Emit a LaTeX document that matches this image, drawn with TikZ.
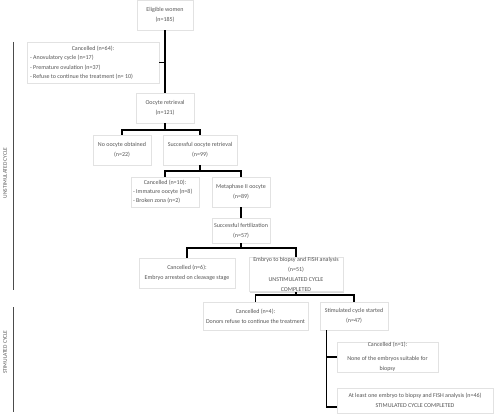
\documentclass[tikz,border=0pt]{standalone}
\usepackage{fontspec}
\setmainfont{Carlito}
\usetikzlibrary{shadows,calc}
\definecolor{txt}{HTML}{555555}
\definecolor{bord}{HTML}{E2E2E2}
\tikzset{
  boxst/.style={draw=bord, line width=0.5pt, fill=white, inner sep=0pt, align=center,
    text=txt, font=\fontsize{6}{10}\selectfont,
    drop shadow={shadow xshift=1pt, shadow yshift=-1.2pt, fill=black, opacity=0.15}},
  conn/.style={draw=black, line width=1.2pt},
  sideline/.style={draw=black!70, line width=0.9pt},
  sidelabel/.style={rotate=90, text=txt, font=\fontsize{5.5}{6}\selectfont, inner sep=0pt}
}
\newcommand{\mybox}[6]{\node[boxst, minimum width={#4pt-#2pt}, minimum height={#5pt-#3pt}] (#1) at ({(#2+#4)/2},{(#3+#5)/2}) {#6};}
\begin{document}
\begin{tikzpicture}[x=1pt,y=-1pt]
\useasboundingbox (0,0) rectangle (495,417);
\coordinate (j1) at (165,130);
\coordinate (j2) at (200,171);
\coordinate (j3) at (241,248);
\coordinate (j4) at (296,295);
% boxes
\mybox{elig}{137}{0}{193}{30}{Eligible women\\(n=185)}
\mybox{c64}{27}{42}{159}{83}{\fontsize{6}{9.3}\selectfont\begin{tabular}{@{}l@{}}\makebox[126pt][c]{Cancelled (n=64):}\\- Anovulatory cycle (n=17)\\- Premature ovulation (n=37)\\- Refuse to continue the treatment (n= 10)\end{tabular}}
\mybox{oocyte}{136}{93}{194}{123}{Oocyte retrieval\\(n=121)}
\mybox{no}{93}{135}{151}{165}{No oocyte obtained\\(n=22)}
\mybox{succ}{163}{135}{237}{165}{Successful oocyte retrieval\\(n=99)}
\mybox{c10}{131}{177}{199}{207}{\fontsize{6}{9}\selectfont\begin{tabular}{@{}l@{}}\makebox[64pt][c]{Cancelled (n=10):}\\- Immature oocyte (n=8)\\- Broken zona (n=2)\end{tabular}}
\mybox{meta}{212}{177}{270}{207}{Metaphase II oocyte\\(n=89)}
\mybox{fert}{212}{218}{270}{243}{Successful fertilization\\(n=57)}
\mybox{c6}{139}{258}{235}{288}{Cancelled (n=6):\\Embryo arrested on cleavage stage}
\mybox{emb}{249}{258}{343}{291}{\fontsize{6}{7.3}\selectfont Embryo to biopsy and FISH analysis\\(n=51)\\UNSTIMULATED CYCLE\\COMPLETED}
\mybox{c4}{203}{302}{308}{330}{Cancelled (n=4):\\Donors refuse to continue the treatment}
\mybox{stim}{320}{302}{388}{330}{Stimulated cycle started\\(n=47)}
\mybox{c1}{337}{342}{438}{372}{\fontsize{6}{7.6}\selectfont Cancelled (n=1):\\[4pt]None of the embryos suitable for\\biopsy}
\mybox{atl}{337}{388}{493}{413}{At least one embryo to biopsy and FISH analysis (n=46)\\STIMULATED CYCLE COMPLETED}
% connectors
\draw[conn] (elig.south) -- (oocyte.north);
\draw[conn] (c64.east) -- (c64.east -| elig.south);
\draw[conn] (oocyte.south) -- (j1);
\draw[conn] (no.north) |- (j1) -| (succ.north);
\draw[conn] (succ.south) -- (j2);
\draw[conn] (c10.north) |- (j2) -| (meta.north);
\draw[conn] (meta.south) -- (fert.north);
\draw[conn] (fert.south) -- (j3);
\draw[conn] (c6.north) |- (j3) -| (emb.north);
\draw[conn] (emb.south) -- (j4);
\draw[conn] (c4.north) |- (j4) -| (stim.north);
\draw[conn] ([xshift=7pt]stim.south west) |- (c1.west);
\draw[conn] ([xshift=7pt]stim.south west) |- ([yshift=-6.5pt]atl.west);
% side labels
\coordinate (u1) at (13,42);
\coordinate (u2) at (13,290);
\coordinate (s1) at (13,307);
\coordinate (s2) at (13,412);
\draw[sideline] (u1) -- (u2);
\draw[sideline] (s1) -- (s2);
\node[sidelabel] (ulab) at (5,173) {UNSTIMULATED CYCLE};
\node[sidelabel] (slab) at (5,352) {STIMULATED CYCLE};
\end{tikzpicture}
\end{document}
